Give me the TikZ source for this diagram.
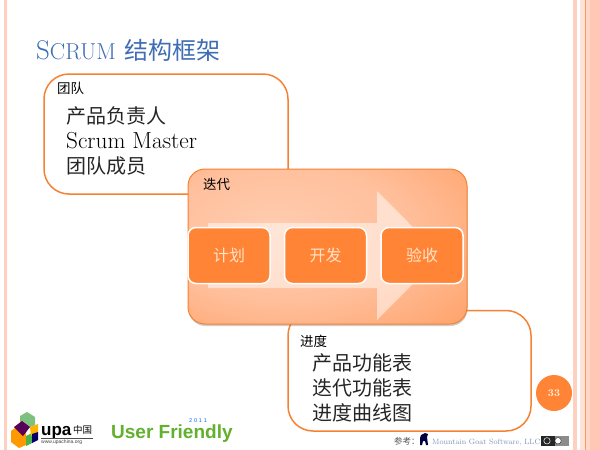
\documentclass[tikz,border=0pt]{standalone}
\usepackage{fontspec}
\newfontfamily\cjk{Noto Sans CJK SC}
\newfontfamily\logofont{Liberation Sans}
\usetikzlibrary{shadows}
\definecolor{boxorange}{HTML}{F58233}
\definecolor{innerorange}{HTML}{FF8435}
\definecolor{stripepink}{HTML}{FFC8B4}
\definecolor{titleblue}{HTML}{3F6DB5}
\definecolor{goatblue}{HTML}{8093B8}
\definecolor{logogreen}{HTML}{62B02E}
\pgfdeclareradialshading{iterglow}{\pgfpoint{-10bp}{6bp}}{
  rgb(0bp)=(1,0.80,0.69);
  rgb(22bp)=(1,0.75,0.61);
  rgb(40bp)=(1,0.65,0.44);
  rgb(62bp)=(1,0.56,0.29);
  rgb(100bp)=(1,0.52,0.21)}
\tikzset{
  framebox/.style={draw=boxorange,line width=1.5pt,rounded corners=25pt,fill=white},
  headlabel/.style={anchor=west,inner sep=0pt,font=\cjk\fontsize{13.5}{16}\selectfont},
  bodyline/.style={anchor=west,inner sep=0pt,text=black!85,font=\cjk\fontsize{20}{24}\selectfont},
  stagebox/.style={draw=white,line width=1.5pt,rounded corners=8pt,fill=innerorange,
    minimum width=82pt,minimum height=56pt,inner sep=0pt,text=white!78!orange,
    font=\cjk\fontsize{16}{20}\selectfont},
}
\begin{document}
\begin{tikzpicture}[x=1pt,y=-1pt]
 \useasboundingbox (0,0) rectangle (600,450);
 \fill[white] (0,0) rectangle (600,450);
 % page stripes
 \fill[stripepink!85] (3.5,0) rectangle (7,450);
 \fill[stripepink!85] (573,0) rectangle (577,450);
 \fill[stripepink!50] (580,0) rectangle (585,450);
 \fill[boxorange!80] (584.5,0) rectangle (586,450);
 \fill[stripepink!70] (586,0) rectangle (590,450);
 \fill[stripepink] (590,0) rectangle (600,450);
 % title
 \node[anchor=base west,inner sep=0pt,text=titleblue] (title) at (36,59)
  {\fontsize{27}{28}\selectfont S\fontsize{23}{28}\selectfont CRUM\hspace{9pt}{\cjk\fontsize{24}{28}\selectfont 结构框架}};
 % team
 \draw[framebox] (44,74) rectangle (288,194);
 \node[headlabel] (teamhead) at (57,88) {团队};
 \node[bodyline] (team1) at (66,116) {产品负责人};
 \node[bodyline,text=black,font=\fontsize{23.2}{26}\selectfont] (team2) at (66,141) {Scrum Master};
 \node[bodyline] (team3) at (66,166) {团队成员};
 % progress
 \draw[framebox] (288,310.5) rectangle (531,431);
 \node[headlabel] (ladderhead) at (300,341) {进度};
 \node[bodyline] (ladder1) at (312,363) {产品功能表};
 \node[bodyline] (ladder2) at (312,388) {迭代功能表};
 \node[bodyline] (ladder3) at (312,413) {进度曲线图};
 % iteration
 \draw[draw=boxorange,line width=1pt,rounded corners=17pt,shading=iterglow,
  drop shadow={shadow xshift=0.5pt,shadow yshift=-2pt,opacity=0.4}]
  (188,169) rectangle (467,324);
 \fill[white,opacity=0.5] (208,223) -- (377,223) -- (377,191) -- (441,255.5) -- (377,320)
  -- (377,288) -- (208,288) -- cycle;
 \node[headlabel] (iterhead) at (203,184) {迭代};
 \node[stagebox] (plan) at (229,255.5) {计划};
 \node[stagebox] (develop) at (325.5,255.5) {开发};
 \node[stagebox] (accept) at (422,255.5) {验收};
 % page number
 \node[circle,fill=innerorange,minimum size=36pt,inner sep=0pt,text=white!85!orange,
  font=\bfseries\fontsize{10.5}{12}\selectfont] (pagenum) at (554,393) {33};
 % source
 \node[anchor=west,inner sep=0pt,text=black!65,font=\cjk\fontsize{8.5}{10}\selectfont] (srchead) at (394,441) {参考：};
 \fill[black!75!blue] (420,445) -- (420,438) -- (421,435) -- (425,433) -- (428,434) -- (427,437)
  -- (428,445) -- (426,445) -- (425,441) -- (423,441) -- (422,445) -- cycle;
 \node[anchor=west,inner sep=0pt,text=goatblue,font=\fontsize{7.6}{10}\selectfont] (srcname) at (432,442.5)
  {Mountain Goat Software, LLC};
 \fill[black!45] (541,436) rectangle (569,445.5);
 \fill[black!85] (541,436) rectangle (555,445.5);
 \draw[white,fill=black!85,line width=0.5pt] (547,440.8) circle (3.2);
 \draw[black,fill=white,line width=0.3pt] (558,440.8) circle (3.2);
 % upa logo
 \fill[orange!80!yellow] (11,431) -- (18,426) -- (26,431) -- (26,445) -- (19,448) -- (11,442) -- cycle;
 \fill[green!35!gray!75!white] (20,416) -- (27,412) -- (35,417) -- (35,425) -- (28,428) -- (20,424) -- cycle;
 \fill[violet!70!black] (14,427) -- (22,421) -- (30,427) -- (23,436) -- cycle;
 \fill[green!40!gray] (26,436) -- (32,433) -- (32,443) -- (26,446) -- cycle;
 \fill[orange!60!yellow] (30,427) -- (38,424) -- (38,432) -- (31,436) -- cycle;
 \fill[blue!40!black] (32,434) -- (38,432) -- (38,440) -- (32,443) -- cycle;
 \node[anchor=base west,inner sep=0pt,font=\logofont\bfseries\fontsize{17}{20}\selectfont] (upa) at (41,435) {upa};
 \node[anchor=west,inner sep=0pt,font=\cjk\fontsize{9.5}{12}\selectfont] (upacn) at (73,430) {中国};
 \draw[black!70,line width=0.5pt] (41,438) -- (93,438);
 \node[anchor=west,inner sep=0pt,text=black!75,font=\logofont\fontsize{5}{6}\selectfont] (upaurl) at (41,442.5) {www.upachina.org};
 % user friendly
 \node[anchor=base west,inner sep=0pt,text=logogreen,font=\logofont\bfseries\fontsize{19}{22}\selectfont] (friendly) at (111,438)
  {User Friendly};
 \node[inner sep=0pt,text=blue!60!cyan,font=\logofont\fontsize{5.5}{7}\selectfont] (year) at (198,421) {2\,\,0\,\,1\,\,1};
\end{tikzpicture}
\end{document}
